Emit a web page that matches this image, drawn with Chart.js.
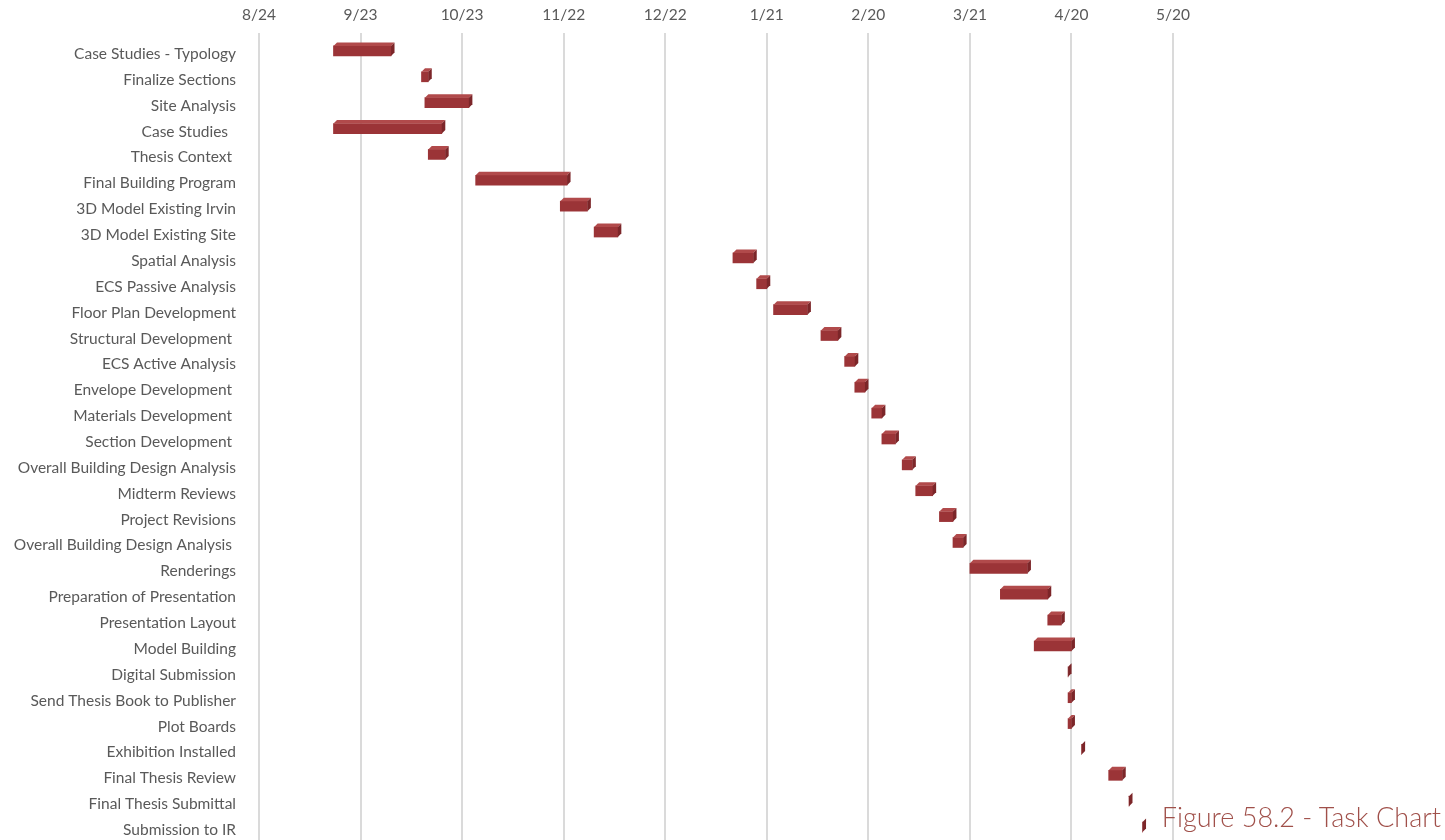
<!DOCTYPE html>
<html>
<head>
<meta charset="utf-8">
<script src="https://cdn.jsdelivr.net/npm/chart.js@4/dist/chart.umd.min.js"></script>
<style>
  html, body { margin: 0; padding: 0; background: #ffffff; overflow: hidden; }
  #wrap { position: relative; width: 1445px; height: 840px; }
  #caption {
    position: absolute; right: 4px; top: 803px;
    font-family: Lato, "Open Sans", sans-serif; font-weight: 300;
    font-size: 27px; line-height: 27px; color: #A0504A; white-space: nowrap;
  }
</style>
</head>
<body>
<div id="wrap">
  <canvas id="gantt" width="1445" height="840"></canvas>
  <div id="caption">Figure 58.2 - Task Chart</div>
</div>
<script>
// Thesis schedule, 2019–2020 academic year
const tasks = [
  'Case Studies - Typology', 'Finalize Sections', 'Site Analysis', 'Case Studies  ',
  'Thesis Context ', 'Final Building Program', '3D Model Existing Irvin', '3D Model Existing Site',
  'Spatial Analysis', 'ECS Passive Analysis', 'Floor Plan Development', 'Structural Development ',
  'ECS Active Analysis', 'Envelope Development ', 'Materials Development ', 'Section Development ',
  'Overall Building Design Analysis', 'Midterm Reviews', 'Project Revisions', 'Overall Building Design Analysis ',
  'Renderings', 'Preparation of Presentation', 'Presentation Layout', 'Model Building',
  'Digital Submission', 'Send Thesis Book to Publisher', 'Plot Boards', 'Exhibition Installed',
  'Final Thesis Review', 'Final Thesis Submittal', 'Submission to IR'
];

const startDates = [
  '9/15', '10/11', '10/12', '9/15', '10/13', '10/27', '11/21', '12/1',
  '1/11', '1/18', '1/23', '2/6', '2/13', '2/16', '2/21', '2/24',
  '3/1', '3/5', '3/12', '3/16', '3/21', '3/30', '4/13', '4/9',
  '4/19', '4/19', '4/19', '4/23', '5/1', '5/7', '5/11'
];

// days
const durations = [
  17, 2, 13, 32, 5, 27, 8, 7,
  6, 3, 10, 5, 3, 3, 3, 4,
  3, 5, 4, 3, 17, 14, 4, 11,
  0, 1, 1, 0, 4, 0, 0
];

const tickLabels = ['8/24', '9/23', '10/23', '11/22', '12/22', '1/21', '2/20', '3/21', '4/20', '5/20'];
const tickStepDays = 30;

// day count from the first axis date (8/24/2019)
const origin = Date.UTC(2019, 7, 24);
function dayOffset(md) {
  const [m, d] = md.split('/').map(Number);
  const year = m >= 8 ? 2019 : 2020;
  return Math.round((Date.UTC(year, m - 1, d) - origin) / 86400000);
}

const spans = startDates.map((s, i) => {
  const a = dayOffset(s);
  return [a, a + durations[i]];
});

const FRONT = '#9B3437';
const TOP = '#B14A4B';
const SIDE = '#7C2629';
const DEPTH = 3.5;

// gives each bar an extruded top and right face
const bevel = {
  id: 'bevel',
  afterDatasetsDraw(chart) {
    const ctx = chart.ctx;
    const meta = chart.getDatasetMeta(0);
    ctx.save();
    meta.data.forEach(bar => {
      const { x, y, base, height } = bar.getProps(['x', 'y', 'base', 'height'], true);
      const l = Math.min(x, base), r = Math.max(x, base);
      const t = y - height / 2, b = y + height / 2;
      ctx.fillStyle = TOP;
      ctx.beginPath();
      ctx.moveTo(l, t); ctx.lineTo(l + DEPTH, t - DEPTH);
      ctx.lineTo(r + DEPTH, t - DEPTH); ctx.lineTo(r, t);
      ctx.closePath(); ctx.fill();
      ctx.fillStyle = SIDE;
      ctx.beginPath();
      ctx.moveTo(r, t); ctx.lineTo(r + DEPTH, t - DEPTH);
      ctx.lineTo(r + DEPTH, b - DEPTH); ctx.lineTo(r, b);
      ctx.closePath(); ctx.fill();
    });
    ctx.restore();
  }
};

new Chart(document.getElementById('gantt'), {
  type: 'bar',
  data: {
    labels: tasks,
    datasets: [{
      data: spans,
      backgroundColor: FRONT,
      borderWidth: 0,
      barThickness: 10
    }]
  },
  options: {
    indexAxis: 'y',
    responsive: false,
    animation: false,
    layout: { autoPadding: false, padding: { left: 0, right: 272, top: 0, bottom: 0 } },
    plugins: { legend: { display: false }, tooltip: { enabled: false } },
    scales: {
      x: {
        position: 'top',
        min: 0,
        max: (tickLabels.length - 1) * tickStepDays,
        afterFit(scale) { scale.height = 38; },
        ticks: {
          stepSize: tickStepDays,
          padding: 9,
          color: '#595959',
          font: { family: 'Lato, "Open Sans", sans-serif', size: 15.5 },
          maxRotation: 0,
          callback: v => tickLabels[Math.round(v / tickStepDays)]
        },
        grid: { color: '#DADADA', lineWidth: 2, tickLength: 5, drawTicks: true },
        border: { display: false }
      },
      y: {
        // task rows run the full height below the date axis
        afterFit(scale) {
          scale.width = 259;
          scale.paddingTop = 0;
          scale.paddingBottom = 0;
        },
        ticks: {
          padding: 15,
          labelOffset: 3,
          color: '#595959',
          autoSkip: false,
          font: { family: 'Lato, "Open Sans", sans-serif', size: 15.5 }
        },
        grid: { display: false },
        border: { display: false }
      }
    }
  },
  plugins: [bevel]
});
</script>
</body>
</html>
